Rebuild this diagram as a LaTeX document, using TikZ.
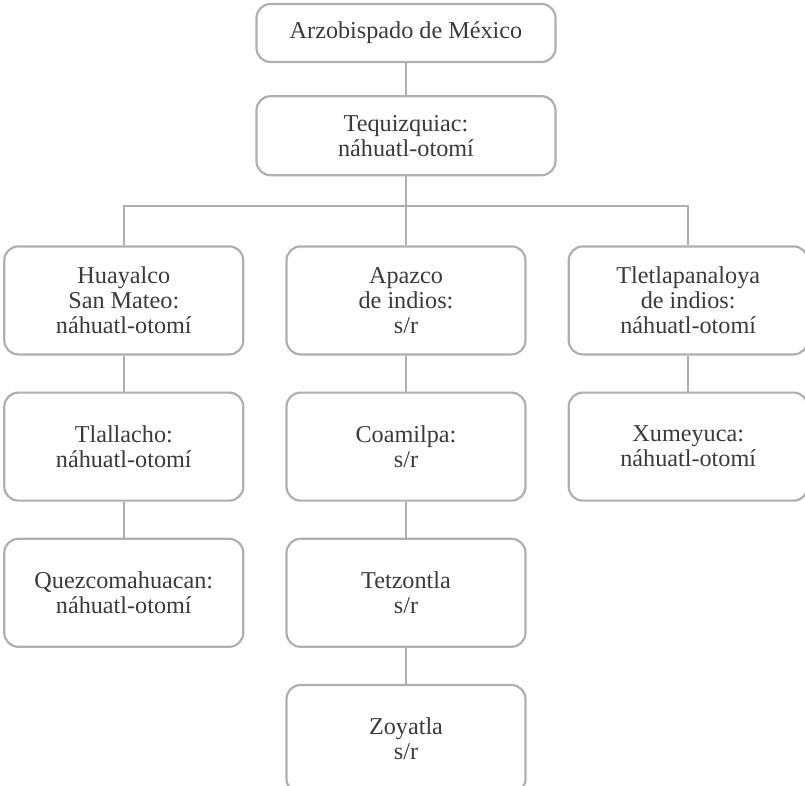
\documentclass[tikz,border=0pt]{standalone}
\usepackage{fontspec}
\setmainfont{Liberation Serif}
\usetikzlibrary{positioning}
\definecolor{linegray}{RGB}{175,175,175}
\definecolor{textgray}{RGB}{58,58,58}
\begin{document}
\begin{tikzpicture}[node distance=36pt and 41pt,line width=2.2pt,
    box/.style={draw=linegray,rounded corners=14pt,minimum width=239pt,minimum height=108pt,
        align=center,text=textgray,inner sep=0pt,font=\fontsize{24.2}{25}\selectfont},
    link/.style={draw=linegray}]
        \useasboundingbox (0,0) rectangle (805pt,-785pt);
        \node (arz) [box, minimum width=299pt, minimum height=58pt] at (406pt,-33pt) {Arzobispado de México};
        \node (teq) [box, minimum width=299pt, minimum height=79pt, below=32pt of arz] {Tequizquiac:\\náhuatl-otomí};
        \node (apa) [box, below=69pt of teq] {Apazco\\de indios:\\s/r};
        \node (hua) [box, left=of apa] {Huayalco\\San Mateo:\\náhuatl-otomí};
        \node (tle) [box, right=of apa] {Tletlapanaloya\\de indios:\\náhuatl-otomí};
        \node (tla) [box, below=of hua] {Tlallacho:\\náhuatl-otomí};
        \node (que) [box, below=of tla] {Quezcomahuacan:\\náhuatl-otomí};
        \node (coa) [box, below=of apa] {Coamilpa:\\s/r};
        \node (tet) [box, below=of coa] {Tetzontla\\s/r};
        \node (zoy) [box, below=of tet] {Zoyatla\\s/r};
        \node (xum) [box, below=of tle] {Xumeyuca:\\náhuatl-otomí};
        \coordinate (bus) at (406pt,-206pt);

        \draw[link] (arz) -- (teq);
        \draw[link] (teq) -- (bus);
        \draw[link] (hua.north) |- (bus) -| (tle.north);
        \draw[link] (bus) -- (apa);
        \draw[link] (hua) -- (tla);
        \draw[link] (tla) -- (que);
        \draw[link] (apa) -- (coa);
        \draw[link] (coa) -- (tet);
        \draw[link] (tet) -- (zoy);
        \draw[link] (tle) -- (xum);
    \end{tikzpicture}
\end{document}
